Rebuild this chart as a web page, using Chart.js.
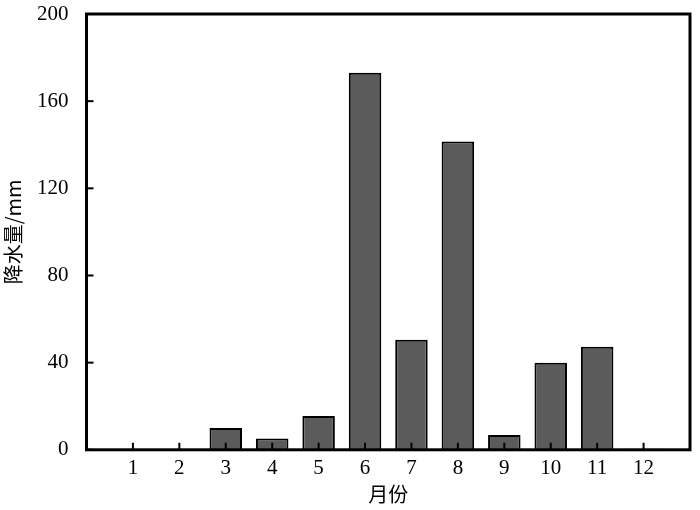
<!DOCTYPE html>
<html>
<head>
<meta charset="utf-8">
<script src="https://cdn.jsdelivr.net/npm/chart.js@4/dist/chart.umd.min.js"></script>
<style>
  html, body { margin: 0; padding: 0; background: #fff; }
  #wrap { width: 700px; height: 510px; }
</style>
</head>
<body>
<div id="wrap"><canvas id="rainChart" width="700" height="510"></canvas></div>
<script>
// monthly precipitation (mm)
const months = ['', '1', '2', '3', '4', '5', '6', '7', '8', '9', '10', '11', '12', ''];
const rainfall = [null, 0, 0, 10, 5.2, 15.5, 173, 50.5, 141.5, 6.8, 40, 47.3, 0.5, null];
const yTicks = [0, 40, 80, 120, 160, 200];

const serif = '"Liberation Serif", "Times New Roman", serif';

// frame + inward tick marks
const frame = {
    id: 'frame',
    afterDraw(chart) {
        const { ctx, chartArea: a, scales } = chart;
        ctx.save();
        ctx.strokeStyle = '#000';
        ctx.lineWidth = 2;
        scales.y.ticks.forEach(t => {
            const y = scales.y.getPixelForValue(t.value);
            ctx.beginPath();
            ctx.moveTo(a.left, y);
            ctx.lineTo(a.left + 7, y);
            ctx.stroke();
        });
        months.forEach((m, i) => {
            if (!m) return;
            const x = scales.x.getPixelForValue(i);
            ctx.beginPath();
            ctx.moveTo(x, a.bottom);
            ctx.lineTo(x, a.bottom - 7);
            ctx.stroke();
        });
        ctx.lineWidth = 3;
        ctx.strokeRect(a.left, a.top, a.right - a.left, a.bottom - a.top);
        ctx.restore();
    }
};

new Chart(document.getElementById('rainChart'), {
    type: 'bar',
    data: {
        labels: months,
        datasets: [{
            data: rainfall,
            backgroundColor: '#5b5b5b',
            borderColor: '#000',
            borderWidth: 2,
            barPercentage: 0.7,
            categoryPercentage: 1
        }]
    },
    options: {
        responsive: false,
        animation: false,
        layout: { padding: { top: 14, right: 10, left: 1, bottom: 4 } },
        plugins: { legend: { display: false }, tooltip: { enabled: false } },
        scales: {
            x: {
                offset: false,
                grid: { display: false },
                border: { display: false },
                ticks: {
                    color: '#000',
                    font: { family: serif, size: 21 },
                    padding: -2,
                    maxRotation: 0,
                    autoSkip: false
                },
                title: {
                    display: true,
                    text: '月份',
                    color: '#000',
                    font: { family: '"Noto Sans CJK SC", serif', size: 20 },
                    padding: { top: 3, bottom: 0 }
                }
            },
            y: {
                min: 0,
                max: 200,
                afterBuildTicks(scale) {
                    scale.ticks = yTicks.map(v => ({ value: v }));
                },
                afterFit(scale) {
                    scale.paddingTop = 0;
                },
                grid: { display: false },
                border: { display: false },
                ticks: {
                    color: '#000',
                    font: { family: serif, size: 21 },
                    padding: 10
                },
                title: {
                    display: true,
                    text: '降水量/mm',
                    color: '#000',
                    font: { family: '"Noto Sans CJK SC", serif', size: 20 },
                    padding: { top: 0, bottom: 2 }
                }
            }
        }
    },
    plugins: [frame]
});
</script>
</body>
</html>
